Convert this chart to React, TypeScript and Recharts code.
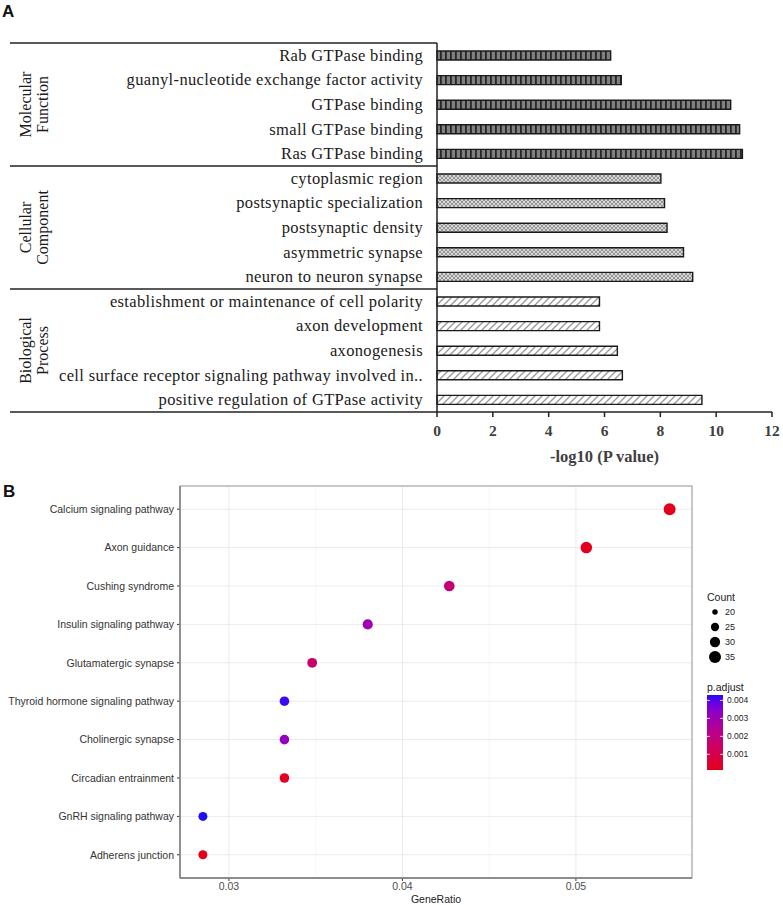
import React from 'react';
import {
  BarChart,
  Bar,
  XAxis,
  YAxis,
  Cell,
  ScatterChart,
  Scatter,
  ZAxis,
  CartesianGrid,
  ReferenceLine
} from 'recharts';

// ---- Panel A: GO terms, -log10(P value) ----
const goTerms = [
  'Rab GTPase binding',
  'guanyl-nucleotide exchange factor activity',
  'GTPase binding',
  'small GTPase binding',
  'Ras GTPase binding',
  'cytoplasmic region',
  'postsynaptic specialization',
  'postsynaptic density',
  'asymmetric synapse',
  'neuron to neuron synapse',
  'establishment or maintenance of cell polarity',
  'axon development',
  'axonogenesis',
  'cell surface receptor signaling pathway involved in..',
  'positive regulation of GTPase activity'
];
const goLogP = [6.22, 6.6, 10.52, 10.84, 10.94, 8.02, 8.15, 8.24, 8.83, 9.16, 5.82, 5.82, 6.46, 6.64, 9.49];
const goGroup = ['MF', 'MF', 'MF', 'MF', 'MF', 'CC', 'CC', 'CC', 'CC', 'CC', 'BP', 'BP', 'BP', 'BP', 'BP'];
const groupKeys = ['MF', 'CC', 'BP'];
const groupTitles = [['Molecular', 'Function'], ['Cellular', 'Component'], ['Biological', 'Process']];
const goTicks = [0, 2, 4, 6, 8, 10, 12];

// ---- Panel B: KEGG pathways dot plot ----
const pathways = [
  'Calcium signaling pathway',
  'Axon guidance',
  'Cushing syndrome',
  'Insulin signaling pathway',
  'Glutamatergic synapse',
  'Thyroid hormone signaling pathway',
  'Cholinergic synapse',
  'Circadian entrainment',
  'GnRH signaling pathway',
  'Adherens junction'
];
const geneRatio = [0.0554, 0.0506, 0.0427, 0.038, 0.0348, 0.0332, 0.0332, 0.0332, 0.0285, 0.0285];
const geneCount = [35, 32, 27, 24, 22, 21, 21, 21, 18, 18];
const pAdjust = [0.0002, 0.00022, 0.0018, 0.003, 0.0016, 0.0042, 0.0032, 0.0003, 0.0043, 0.00013];
const ratioTicks = [0.03, 0.04, 0.05];
const ratioMinor = [0.035, 0.045];
const countBreaks = [20, 25, 30, 35];
const pBreaks = [0.001, 0.002, 0.003, 0.004];

const SERIF = '"Liberation Serif", "Times New Roman", serif';
const SANS = '"Liberation Sans", Arial, Helvetica, sans-serif';

// layout of panel A
const A_TOP = 43;
const A_BOTTOM = 412;
const A_AXIS_X = 437;
const A_RIGHT = 772;

// layout of panel B
const B_Y = 478;
const B_H = 427;
const B_TOP = 486;
const B_LEFT = 180;
const B_RIGHT = 692;
const B_BOTTOM = 878;
const SIZE_RANGE = [12, 113];

// ggplot style red -> blue gradient in Lab space
const LOW = [228, 0, 24];
const HIGH = [30, 14, 250];
const toLin = (c: number) => {
  c /= 255;
  return c <= 0.04045 ? c / 12.92 : Math.pow((c + 0.055) / 1.055, 2.4);
};
const fromLin = (c: number) => {
  const v = c <= 0.0031308 ? 12.92 * c : 1.055 * Math.pow(Math.max(c, 0), 1 / 2.4) - 0.055;
  return Math.round(Math.min(1, Math.max(0, v)) * 255);
};
function rgbToLab(rgb: number[]) {
  const [R, G, B] = rgb.map(toLin);
  const x = (0.4124 * R + 0.3576 * G + 0.1805 * B) / 0.95047;
  const y = 0.2126 * R + 0.7152 * G + 0.0722 * B;
  const z = (0.0193 * R + 0.1192 * G + 0.9505 * B) / 1.08883;
  const f = (t: number) => (t > 0.008856 ? Math.cbrt(t) : 7.787 * t + 16 / 116);
  const fx = f(x), fy = f(y), fz = f(z);
  return [116 * fy - 16, 500 * (fx - fy), 200 * (fy - fz)];
}
function labToHex(lab: number[]) {
  const [L, a, b] = lab;
  const fy = (L + 16) / 116, fx = fy + a / 500, fz = fy - b / 200;
  const inv = (t: number) => (t * t * t > 0.008856 ? t * t * t : (t - 16 / 116) / 7.787);
  const x = inv(fx) * 0.95047, y = inv(fy), z = inv(fz) * 1.08883;
  const r = 3.2406 * x - 1.5372 * y - 0.4986 * z;
  const g = -0.9689 * x + 1.8758 * y + 0.0415 * z;
  const bl = 0.0557 * x - 0.204 * y + 1.057 * z;
  return '#' + [r, g, bl].map(v => fromLin(v).toString(16).padStart(2, '0')).join('');
}
const lowLab = rgbToLab(LOW);
const highLab = rgbToLab(HIGH);
const pMin = Math.min(...pAdjust);
const pMax = Math.max(...pAdjust);
const colorAt = (t: number) => labToHex(lowLab.map((v, i) => v + (highLab[i] - v) * t));
const colorFor = (p: number) => colorAt((p - pMin) / (pMax - pMin));

const goData = goTerms.map((name, i) => ({ name, value: goLogP[i], group: goGroup[i] }));
const dotData = pathways.map((name, i) => ({ name, ratio: geneRatio[i], count: geneCount[i], p: pAdjust[i] }));

const patternFor: Record<string, string> = { MF: 'url(#patMF)', CC: 'url(#patCC)', BP: 'url(#patBP)' };

// plain ticks, no wrapping
const GoTick = (props: any) => (
  <text
    x={props.x}
    y={props.y}
    dy={5.5}
    textAnchor="end"
    fontFamily={SERIF}
    fontSize={16.5}
    letterSpacing={0.35}
    fill="#1a1a1a"
  >
    {props.payload.value}
  </text>
);

const PathTick = (props: any) => (
  <text x={props.x} y={props.y} dy={3.8} textAnchor="end" fontFamily={SANS} fontSize={10.5} fill="#333">
    {props.payload.value}
  </text>
);

function GoFrame() {
  const band = (A_BOTTOM - A_TOP) / goTerms.length;
  let start = 0;
  const groups = groupKeys.map((k, gi) => {
    const n = goGroup.filter(g => g === k).length;
    const y0 = A_TOP + start * band;
    const y1 = y0 + n * band;
    start += n;
    return { y0, y1, title: groupTitles[gi] };
  });
  return (
    <svg width={783} height={470} style={{ position: 'absolute', left: 0, top: 0, pointerEvents: 'none' }}>
      {groups.map((g, i) => (
        <line key={'t' + i} x1={10} x2={A_AXIS_X} y1={g.y0} y2={g.y0} stroke="#222" strokeWidth={1.5} />
      ))}
      <line x1={10} x2={A_AXIS_X} y1={A_BOTTOM} y2={A_BOTTOM} stroke="#222" strokeWidth={1.5} />
      {groups.map((g, i) => {
        const cy = (g.y0 + g.y1) / 2;
        return (
          <g key={'g' + i} fontFamily={SERIF} fontSize={16} fill="#1a1a1a">
            <text transform={`translate(31,${cy}) rotate(-90)`} textAnchor="middle">{g.title[0]}</text>
            <text transform={`translate(48,${cy}) rotate(-90)`} textAnchor="middle">{g.title[1]}</text>
          </g>
        );
      })}
      <text x={2} y={17} fontFamily={SANS} fontWeight="bold" fontSize={17} fill="#111">A</text>
    </svg>
  );
}

function DotLegend() {
  const areaFor = (c: number) =>
    SIZE_RANGE[0] + ((c - Math.min(...geneCount)) / (Math.max(...geneCount) - Math.min(...geneCount))) * (SIZE_RANGE[1] - SIZE_RANGE[0]);
  const barTop = 695, barH = 75, barX = 707, barW = 16;
  const stops = Array.from({ length: 11 }, (_, i) => i / 10);
  return (
    <svg width={783} height={905} style={{ position: 'absolute', left: 0, top: 0, pointerEvents: 'none' }}>
      <defs>
        <linearGradient id="pGrad" x1="0" y1="1" x2="0" y2="0">
          {stops.map(t => (
            <stop key={t} offset={t} stopColor={colorAt(t)} />
          ))}
        </linearGradient>
      </defs>
      <text x={3} y={497} fontFamily={SANS} fontWeight="bold" fontSize={17} fill="#111">B</text>
      <rect x={B_LEFT} y={B_TOP} width={B_RIGHT - B_LEFT} height={B_BOTTOM - B_TOP} fill="none" stroke="#9a9a9a" strokeWidth={1} />
      <line x1={B_LEFT} x2={B_LEFT} y1={B_TOP} y2={B_BOTTOM} stroke="#7a7a7a" strokeWidth={1.4} />
      <line x1={B_LEFT} x2={B_RIGHT} y1={B_BOTTOM} y2={B_BOTTOM} stroke="#7a7a7a" strokeWidth={1.4} />
      <g fontFamily={SANS} fill="#222">
        <text x={707} y={601} fontSize={10.5}>Count</text>
        {countBreaks.map((c, i) => (
          <g key={c}>
            <circle cx={715} cy={612 + i * 15} r={Math.sqrt(areaFor(c) / Math.PI)} fill="#000" />
            <text x={725} y={615 + i * 15} fontSize={9}>{c}</text>
          </g>
        ))}
        <text x={707} y={691} fontSize={10.5}>p.adjust</text>
        <rect x={barX} y={barTop} width={barW} height={barH} fill="url(#pGrad)" />
        {pBreaks.map(p => {
          const y = barTop + barH - ((p - pMin) / (pMax - pMin)) * barH;
          return (
            <g key={p}>
              <line x1={barX} x2={barX + 3} y1={y} y2={y} stroke="#fff" strokeWidth={0.8} />
              <line x1={barX + barW - 3} x2={barX + barW} y1={y} y2={y} stroke="#fff" strokeWidth={0.8} />
              <text x={727} y={y + 3} fontSize={8.5}>{p.toFixed(3)}</text>
            </g>
          );
        })}
      </g>
    </svg>
  );
}

export default function App() {
  return (
    <div style={{ position: 'absolute', left: 0, top: 0, width: 783, height: 905, background: '#fff' }}>
      <div style={{ position: 'absolute', left: 0, top: 0 }}>
        <BarChart
          width={783}
          height={470}
          data={goData}
          layout="vertical"
          margin={{ top: A_TOP, right: 783 - A_RIGHT, bottom: 0, left: 0 }}
          barCategoryGap={0}
        >
          <defs>
            <pattern id="patMF" width="5" height="10" patternUnits="userSpaceOnUse">
              <rect width="5" height="10" fill="#808080" />
              <rect width="1.8" height="10" fill="#262626" />
            </pattern>
            <pattern id="patCC" width="4" height="4" patternUnits="userSpaceOnUse">
              <rect width="4" height="4" fill="#d6d6d6" />
              <path d="M0,0 L4,4 M4,0 L0,4" stroke="#858585" strokeWidth="0.8" />
            </pattern>
            <pattern id="patBP" width="7" height="7" patternUnits="userSpaceOnUse">
              <rect width="7" height="7" fill="#ffffff" />
              <path d="M0,7 L7,0 M-1,1 L1,-1 M6,8 L8,6" stroke="#9a9a9a" strokeWidth="1.4" />
            </pattern>
          </defs>
          <XAxis
            type="number"
            domain={[0, 12]}
            ticks={goTicks}
            height={470 - A_BOTTOM}
            tickSize={5}
            tickMargin={8}
            axisLine={{ stroke: '#222', strokeWidth: 1.5 }}
            tickLine={{ stroke: '#222', strokeWidth: 1.5 }}
            tick={{ fontFamily: SERIF, fontSize: 15.5, fontWeight: 'bold', fill: '#404040' }}
            label={{
              value: '-log10 (P value)',
              position: 'insideBottom',
              offset: 8,
              fontFamily: SERIF,
              fontSize: 16.5,
              fontWeight: 'bold',
              fill: '#404040'
            }}
          />
          <YAxis
            type="category"
            dataKey="name"
            width={A_AXIS_X}
            interval={0}
            tickLine={false}
            tickSize={0}
            tickMargin={14}
            axisLine={{ stroke: '#222', strokeWidth: 1.5 }}
            tick={<GoTick />}
          />
          <Bar dataKey="value" barSize={9} stroke="#1a1a1a" strokeWidth={1.4} isAnimationActive={false}>
            {goData.map((d, i) => (
              <Cell key={i} fill={patternFor[d.group]} />
            ))}
          </Bar>
        </BarChart>
        <GoFrame />
      </div>

      <div style={{ position: 'absolute', left: 0, top: B_Y }}>
        <ScatterChart
          width={783}
          height={B_H}
          margin={{ top: B_TOP - B_Y, right: 783 - B_RIGHT, bottom: 0, left: 0 }}
        >
          <CartesianGrid stroke="#ebebeb" strokeWidth={1} />
          {ratioMinor.map(v => (
            <ReferenceLine key={v} x={v} stroke="#f3f3f3" strokeWidth={0.7} />
          ))}
          <XAxis
            type="number"
            dataKey="ratio"
            domain={[0.02718, 0.05669]}
            allowDataOverflow
            ticks={ratioTicks}
            height={B_Y + B_H - B_BOTTOM}
            tickSize={3}
            tickMargin={2}
            axisLine={false}
            tickLine={{ stroke: '#333' }}
            tick={{ fontFamily: SANS, fontSize: 10.5, fill: '#4d4d4d' }}
            label={{ value: 'GeneRatio', position: 'insideBottom', offset: 2, fontFamily: SANS, fontSize: 10.5, fill: '#222' }}
          />
          <YAxis
            type="category"
            dataKey="name"
            width={B_LEFT}
            interval={0}
            padding={{ top: 4, bottom: 4 }}
            reversed
            tickSize={3}
            tickMargin={3}
            axisLine={false}
            tickLine={{ stroke: '#333' }}
            tick={<PathTick />}
          />
          <ZAxis type="number" dataKey="count" range={SIZE_RANGE} />
          <Scatter data={dotData} isAnimationActive={false}>
            {dotData.map((d, i) => (
              <Cell key={i} fill={colorFor(d.p)} />
            ))}
          </Scatter>
        </ScatterChart>
        <div style={{ position: 'absolute', left: 0, top: -B_Y }}>
          <DotLegend />
        </div>
      </div>
    </div>
  );
}
